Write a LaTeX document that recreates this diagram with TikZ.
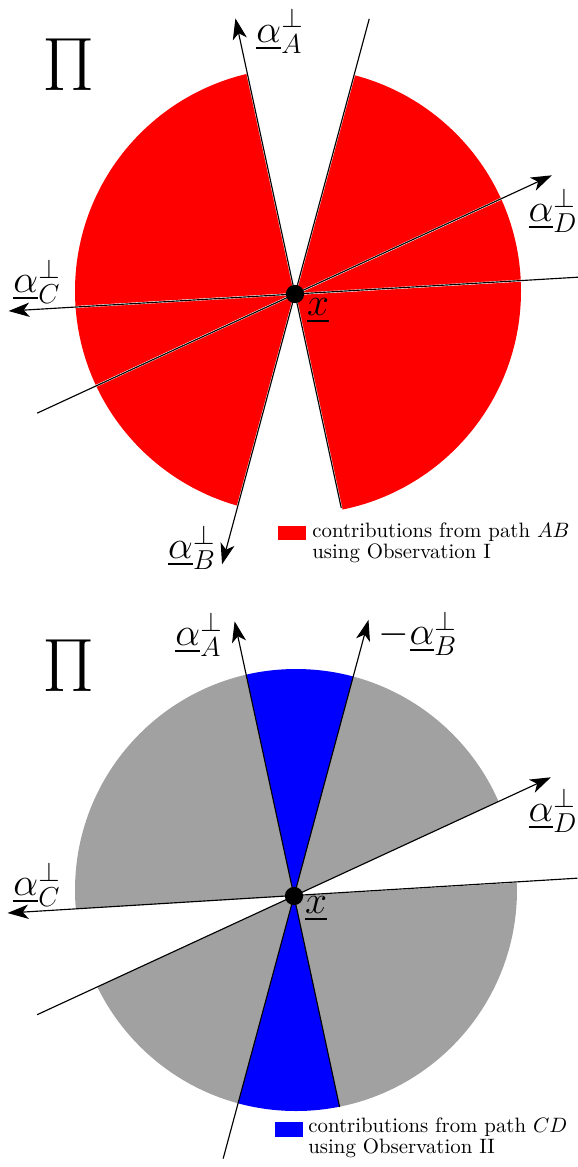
\documentclass[tikz,border=0pt]{standalone}
\usepackage{amsmath,amssymb}
\usepackage{graphicx}
\usetikzlibrary{arrows.meta,positioning,calc}
\definecolor{sectorgray}{gray}{0.63}
\newcommand{\ualpha}[1]{\underline{\alpha}_{#1}^{\perp}}
\newcommand{\bigPi}{\scalebox{1.6}{$\Pi$}}

\begin{document}
\begin{tikzpicture}[
  x=0.526pt,y=0.526pt,
  axis/.style={line width=0.6pt},
  arr/.style={axis,-{Stealth[length=11pt,width=7.5pt,inset=3pt]}},
  lbl/.style={font=\fontsize{20.74}{25}\selectfont,inner sep=0pt},
  bigpi/.style={font=\fontsize{24.88}{30}\selectfont,inner sep=0pt},
  legend/.style={align=left,font=\fontsize{10.95}{10.8}\selectfont,inner sep=0pt},
  swatch/.style={minimum width=14.7pt,minimum height=7.4pt,inner sep=0pt},
  dot/.style={circle,fill=black,inner sep=0pt,minimum size=9.6pt}
]
\useasboundingbox (0,0) rectangle (578,-1167);

% ---- upper plane: path AB
\coordinate (x1) at (295,-294);
\coordinate (o1) at (298,-291);
\begin{scope}
  \clip (o1) circle (223);
  \foreach \a/\b in {102.2/183.4,183.4/204.8,204.8/254.9,
                     282.2/363.4,3.4/24.8,24.8/74.9}
    \fill[red,draw=white,line width=1pt] (x1) -- +(\a:400) -- +(\b:400) -- cycle;
\end{scope}
\coordinate (A1t) at ($(x1)+(102.2:282)$);
\coordinate (A1b) at ($(x1)+(282.2:219)$);
\coordinate (B1t) at ($(x1)+(74.9:285)$);
\coordinate (B1b) at ($(x1)+(254.9:280)$);
\coordinate (C1l) at ($(x1)+(183.4:287)$);
\coordinate (C1r) at ($(x1)+(3.4:284)$);
\coordinate (D1t) at ($(x1)+(24.8:283)$);
\coordinate (D1b) at ($(x1)+(204.8:284)$);
\draw[arr] (A1b) -- (A1t);
\draw[arr] (B1t) -- (B1b);
\draw[arr] (C1r) -- (C1l);
\draw[arr] (D1b) -- (D1t);
\node[dot] (p1) at (x1) {};
\node[lbl] (xl1) at (318,-311) {$\underline{x}$};
\node[bigpi] (pi1) at (69,-65) {\bigPi};
\node[lbl] (la1) at (280,-31) {$\ualpha{A}$};
\node[lbl] (lb1) at (192,-547) {$\ualpha{B}$};
\node[lbl] (lc1) at (37,-281) {$\ualpha{C}$};
\node[lbl] (ld1) at (553,-210) {$\ualpha{D}$};
\node[swatch,fill=red] (sw1) at (292,-533) {};
\node[legend,anchor=west] (tx1) at (312,-543)
  {contributions from path $AB$\\using Observation I};

% ---- lower plane: path CD
\coordinate (x2) at (294,-896);
\coordinate (o2) at (296,-890);
\begin{scope}
  \clip (o2) circle (221);
  \foreach \a/\b in {102.2/183.4,204.8/254.9,282.2/363.4,24.8/74.9}
    \fill[sectorgray] (x2) -- +(\a:400) -- +(\b:400) -- cycle;
  \foreach \a/\b in {74.9/102.2,254.9/282.2}
    \fill[blue] (x2) -- +(\a:400) -- +(\b:400) -- cycle;
\end{scope}
\coordinate (A2t) at ($(x2)+(102.2:281)$);
\coordinate (A2b) at ($(x2)+(282.2:216)$);
\coordinate (B2t) at ($(x2)+(74.9:286)$);
\coordinate (B2b) at ($(x2)+(254.9:272)$);
\coordinate (C2l) at ($(x2)+(183.4:287)$);
\coordinate (C2r) at ($(x2)+(3.6:284)$);
\coordinate (D2t) at ($(x2)+(24.8:283)$);
\coordinate (D2b) at ($(x2)+(204.8:283)$);
\draw[arr] (A2b) -- (A2t);
\draw[arr] (B2b) -- (B2t);
\draw[arr] (C2r) -- (C2l);
\draw[arr] (D2b) -- (D2t);
\node[dot] (p2) at (x2) {};
\node[lbl] (xl2) at (316,-909) {$\underline{x}$};
\node[bigpi] (pi2) at (69,-666) {\bigPi};
\node[lbl] (la2) at (199,-634) {$\ualpha{A}$};
\node[lbl] (lb2) at (418,-633) {$-\ualpha{B}$};
\node[lbl] (lc2) at (37,-884) {$\ualpha{C}$};
\node[lbl] (ld2) at (553,-810) {$\ualpha{D}$};
\node[swatch,fill=blue] (sw2) at (289,-1129.5) {};
\node[legend,anchor=west] (tx2) at (308,-1138)
  {contributions from path $CD$\\using Observation II};
\end{tikzpicture}
\end{document}
